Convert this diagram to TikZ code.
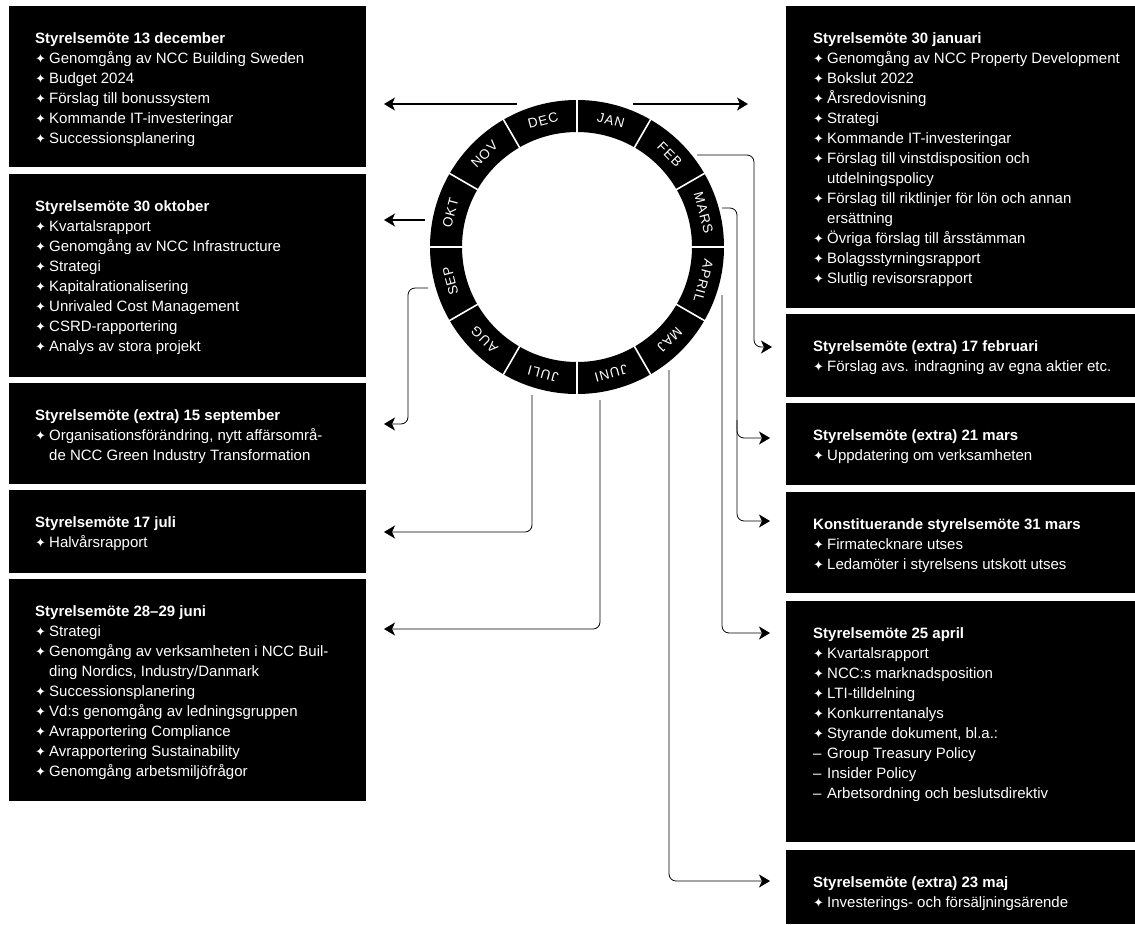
\documentclass[tikz,border=0pt]{standalone}
\usepackage{fontspec}
\setmainfont{Liberation Sans}
\newfontfamily\symfont{DejaVu Sans}
\newfontfamily\monthfont[LetterSpace=8]{Liberation Sans}
\usetikzlibrary{arrows.meta,calc,positioning}
\newcommand\bul{\makebox[14pt][l]{\symfont\fontsize{13}{13}\selectfont ✦}}
\newcommand\dsh{\makebox[14pt][l]{–}}
\newcommand\cont{\hspace*{14pt}}
\tikzset{
  box/.style={fill=black, anchor=north west, inner sep=0pt},
  txt/.style={text=white, align=left, inner sep=0pt, font=\fontsize{15}{20}\selectfont},
  month/.style={text=white, inner sep=0pt, font=\monthfont\fontsize{13.5}{13.5}\selectfont},
  conn/.style={->, line width=0.8pt, rounded corners=7pt},
}
\begin{document}
\begin{tikzpicture}[x=1pt,y=-1pt,>={Stealth[length=11pt,width=13pt,inset=3pt]}]
\useasboundingbox (0,0) rectangle (1135,924);
\coordinate (c) at (577,247);
\fill[black, even odd rule] (c) circle[radius=147pt] (c) circle[radius=115pt];
\foreach \a in {0,30,...,330}
  \draw[white, line width=1.6pt] ($(c)+(\a:113pt)$) -- ($(c)+(\a:149pt)$);
\foreach \m [count=\i from 0] in {JAN,FEB,MARS,APRIL,MAJ,JUNI,JULI,AUG,SEP,OKT,NOV,DEC}{
  \pgfmathsetmacro\a{75-30*\i}
  \node[month, rotate=\a-90] (m\i) at ($(c)+(\a:131pt)$) {\m};
}

\node[box, minimum width=357pt, minimum height=161pt] (dec) at (9,6) {};
\node[txt, below right=26.5pt and 26pt of dec.north west] (dec-t) {\textbf{Styrelsemöte 13 december}\\
  \bul Genomgång av NCC Building Sweden\\ \bul Budget 2024\\ \bul Förslag till bonussystem\\
  \bul Kommande IT-investeringar\\ \bul Successionsplanering};
\node[box, minimum width=357pt, minimum height=203pt] (okt) at (9,174) {};
\node[txt, below right=26.5pt and 26pt of okt.north west] (okt-t) {\textbf{Styrelsemöte 30 oktober}\\
  \bul Kvartalsrapport\\ \bul Genomgång av NCC Infrastructure\\ \bul Strategi\\
  \bul Kapitalrationalisering\\ \bul Unrivaled Cost Management\\ \bul CSRD-rapportering\\
  \bul Analys av stora projekt};
\node[box, minimum width=357pt, minimum height=101pt] (sep) at (9,383) {};
\node[txt, below right=26.5pt and 26pt of sep.north west] (sep-t) {\textbf{Styrelsemöte (extra) 15 september}\\
  \bul Organisationsförändring, nytt affärsområ-\\ \cont de NCC Green Industry Transformation};
\node[box, minimum width=357pt, minimum height=83pt] (juli) at (9,490) {};
\node[txt, below right=26.5pt and 26pt of juli.north west] (juli-t) {\textbf{Styrelsemöte 17 juli}\\
  \bul Halvårsrapport};
\node[box, minimum width=357pt, minimum height=222pt] (juni) at (9,579) {};
\node[txt, below right=26.5pt and 26pt of juni.north west] (juni-t) {\textbf{Styrelsemöte 28–29 juni}\\
  \bul Strategi\\ \bul Genomgång av verksamheten i NCC Buil-\\ \cont ding Nordics, Industry/Danmark\\
  \bul Successionsplanering\\ \bul Vd:s genomgång av ledningsgruppen\\ \bul Avrapportering Compliance\\
  \bul Avrapportering Sustainability\\ \bul Genomgång arbetsmiljöfrågor};

\node[box, minimum width=349pt, minimum height=302pt] (jan) at (786,6) {};
\node[txt, below right=26.5pt and 27pt of jan.north west] (jan-t) {\textbf{Styrelsemöte 30 januari}\\
  \bul Genomgång av NCC Property Development\\ \bul Bokslut 2022\\ \bul Årsredovisning\\ \bul Strategi\\
  \bul Kommande IT-investeringar\\ \bul Förslag till vinstdisposition och\\ \cont utdelningspolicy\\
  \bul Förslag till riktlinjer för lön och annan\\ \cont ersättning\\ \bul Övriga förslag till årsstämman\\
  \bul Bolagsstyrningsrapport\\ \bul Slutlig revisorsrapport};
\node[box, minimum width=349pt, minimum height=83pt] (feb) at (786,314) {};
\node[txt, below right=26.5pt and 27pt of feb.north west] (feb-t) {\textbf{Styrelsemöte (extra) 17 februari}\\
  \bul Förslag avs. indragning av egna aktier etc.};
\node[box, minimum width=349pt, minimum height=82pt] (mars) at (786,403) {};
\node[txt, below right=26.5pt and 27pt of mars.north west] (mars-t) {\textbf{Styrelsemöte (extra) 21 mars}\\
  \bul Uppdatering om verksamheten};
\node[box, minimum width=349pt, minimum height=101pt] (konst) at (786,492) {};
\node[txt, below right=26.5pt and 27pt of konst.north west] (konst-t) {\textbf{Konstituerande styrelsemöte 31 mars}\\
  \bul Firmatecknare utses\\ \bul Ledamöter i styrelsens utskott utses};
\node[box, minimum width=349pt, minimum height=241pt] (apr) at (786,601) {};
\node[txt, below right=26.5pt and 27pt of apr.north west] (apr-t) {\textbf{Styrelsemöte 25 april}\\
  \bul Kvartalsrapport\\ \bul NCC:s marknadsposition\\ \bul LTI-tilldelning\\ \bul Konkurrentanalys\\
  \bul Styrande dokument, bl.a.:\\ \dsh Group Treasury Policy\\ \dsh Insider Policy\\
  \dsh Arbetsordning och beslutsdirektiv};
\node[box, minimum width=349pt, minimum height=74pt] (maj) at (786,850) {};
\node[txt, below right=26.5pt and 27pt of maj.north west] (maj-t) {\textbf{Styrelsemöte (extra) 23 maj}\\
  \bul Investerings- och försäljningsärende};

\coordinate (dec-s) at (517,104);  \coordinate (dec-e) at (384,104);
\coordinate (jan-s) at (633,104);  \coordinate (jan-e) at (748,104);
\coordinate (okt-s) at (425,220);  \coordinate (okt-e) at (384,220);
\coordinate (sep-s) at (428,288);  \coordinate (sep-e) at (384,424);
\coordinate (juli-s) at (532,395); \coordinate (juli-e) at (384,532);
\coordinate (juni-s) at (600,400); \coordinate (juni-e) at (384,629);
\coordinate (feb-s) at (697,155);  \coordinate (feb-e) at (772,347);
\coordinate (mars-s) at (722,208); \coordinate (mars-b) at (737,420);
\coordinate (mars-e) at (770,438); \coordinate (konst-e) at (770,521);
\coordinate (apr-s) at (722,295);  \coordinate (apr-e) at (770,633);
\coordinate (maj-s) at (669,370);  \coordinate (maj-e) at (770,881);

\draw[conn, line width=1.2pt] (dec-s) -- (dec-e);
\draw[conn, line width=1.2pt] (jan-s) -- (jan-e);
\draw[conn, line width=1.2pt] (okt-s) -- (okt-e);
\draw[conn] (sep-s) -- ++(-20,0) |- (sep-e);
\draw[conn] (juli-s) |- (juli-e);
\draw[conn] (juni-s) |- (juni-e);
\draw[conn] (feb-s) -- ++(57,0) |- (feb-e);
\draw[conn] (mars-s) -- ++(15,0) |- (konst-e);
\draw[conn] (mars-b) |- (mars-e);
\draw[conn] (apr-s) |- (apr-e);
\draw[conn] (maj-s) |- (maj-e);
\end{tikzpicture}
\end{document}
